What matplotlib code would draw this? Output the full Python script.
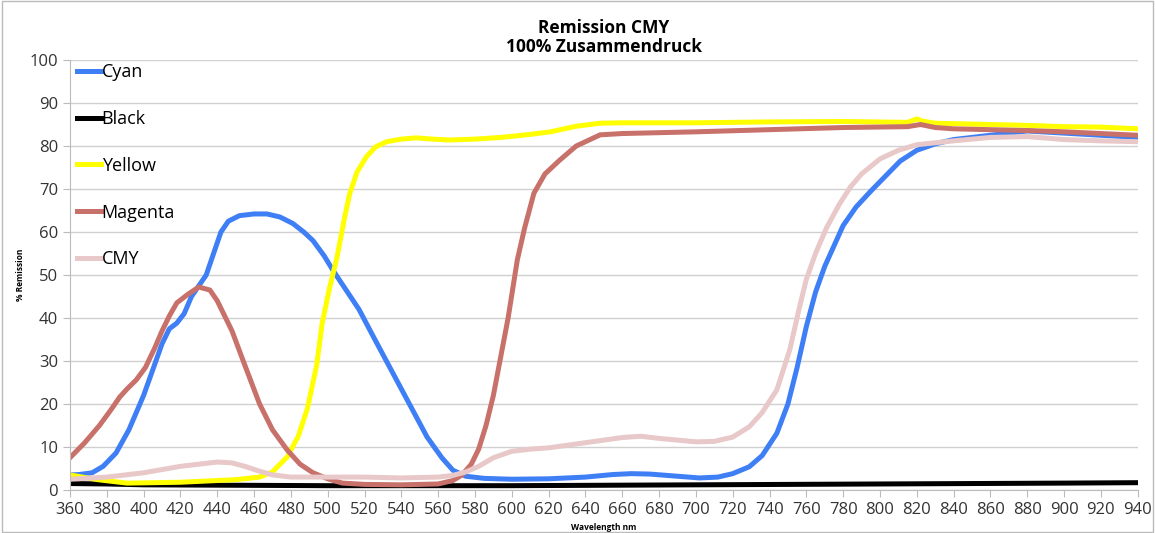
import numpy as np
import matplotlib.pyplot as plt
from matplotlib.patches import Rectangle

plt.rcParams['font.family'] = ['Open Sans', 'DejaVu Sans']

# wavelengths (nm) and remission (%) per ink
wl_cyan = [360, 365, 372, 378, 385, 392, 400, 405, 410, 414, 418, 422, 426, 430, 434, 438,
           442, 446, 452, 460, 467, 474, 481, 487, 492, 498, 503, 510, 517, 525, 535, 545,
           554, 562, 568, 575, 585, 600, 620, 640, 655, 665, 675, 690, 702, 712, 720, 729,
           736, 744, 750, 755, 760, 765, 770, 774, 780, 787, 795, 803, 811, 820, 830, 840,
           860, 880, 900, 920, 940]
cyan = [3.5, 3.6, 4.0, 5.5, 8.6, 14, 22, 28, 34, 37.5, 38.8, 41, 45, 47.5, 50, 55,
        60, 62.5, 63.8, 64.2, 64.2, 63.5, 62, 60, 58, 54.5, 51, 46.5, 42, 35.5, 27.5, 19.5,
        12.3, 7.5, 4.6, 3.2, 2.7, 2.5, 2.6, 3.0, 3.6, 3.8, 3.7, 3.2, 2.8, 3.0, 3.8, 5.4,
        8, 13.2, 20, 28.5, 38, 46, 52, 55.8, 61.5, 65.8, 69.5, 73, 76.5, 79, 80.5, 81.5,
        82.5, 83.5, 83, 82.5, 82]

wl_black = [360, 380, 400, 450, 500, 600, 700, 750, 800, 850, 900, 940]
black = [1.5, 1.4, 1.2, 1.1, 1.0, 1.0, 1.2, 1.3, 1.4, 1.5, 1.6, 1.7]

wl_yellow = [360, 375, 391, 420, 450, 463, 470, 478, 484, 489, 494, 497, 501, 505, 509, 512,
             516, 521, 526, 532, 540, 548, 557, 566, 580, 594, 608, 621, 635, 648, 660, 700,
             740, 780, 815, 820, 823, 830, 840, 860, 880, 900, 920, 940]
yellow = [3.5, 2.4, 1.6, 1.8, 2.4, 3.0, 4.2, 7.7, 12.5, 19, 29, 38.8, 47, 54, 63, 69,
          74, 77.5, 79.8, 81, 81.6, 81.9, 81.6, 81.4, 81.6, 82, 82.6, 83.3, 84.6, 85.3, 85.4, 85.4,
          85.6, 85.7, 85.5, 86.3, 85.8, 85.3, 85.2, 85, 84.8, 84.5, 84.4, 84]

wl_magenta = [360, 368, 376, 382, 387, 391, 396, 401, 406, 410, 414, 418, 424, 430, 436, 440,
              444, 448, 455, 463, 470, 478, 485, 492, 500, 508, 520, 540, 560, 568, 573, 578,
              582, 586, 590, 594, 598, 603, 607, 612, 618, 626, 635, 648, 660, 700, 740, 780,
              815, 822, 830, 840, 880, 900, 940]
magenta = [7.5, 11, 15, 18.5, 21.6, 23.5, 25.6, 28.5, 33, 37, 40.5, 43.5, 45.5, 47.2, 46.5, 44,
           40.5, 37, 29, 20, 14, 9.3, 6, 4, 2.6, 1.6, 1.3, 1.2, 1.4, 2.2, 3.5, 6,
           9.5, 15, 22, 31, 40, 53.5, 61, 69, 73.5, 76.7, 80, 82.6, 82.9, 83.3, 83.8, 84.3,
           84.5, 85, 84.3, 84, 83.6, 83.3, 82.5]

wl_cmy = [360, 380, 400, 420, 430, 440, 448, 455, 462, 470, 480, 500, 520, 540, 560, 568,
          575, 582, 590, 600, 610, 620, 640, 660, 670, 680, 700, 710, 720, 729, 736, 744,
          751, 756, 760, 765, 771, 778, 784, 790, 800, 810, 820, 840, 860, 880, 900, 920,
          940]
cmy = [2.5, 3, 4, 5.5, 6, 6.5, 6.3, 5.5, 4.5, 3.5, 3, 3, 3, 2.8, 3, 3.4,
       4.2, 5.5, 7.5, 9, 9.5, 9.8, 11, 12.2, 12.5, 12, 11.2, 11.3, 12.3, 14.7, 18, 23.3,
       32.6, 42, 49, 55, 61, 66.5, 70.5, 73.5, 77, 79, 80.3, 81.2, 82, 82.2, 81.5, 81.2,
       81]

fig = plt.figure(figsize=(11.55, 5.33), dpi=100)
ax = fig.add_axes([0.0606, 0.0807, 0.9244, 0.8067])

ax.plot(wl_cyan, cyan, color='#3f7ff5', lw=3.6, label='Cyan')
ax.plot(wl_black, black, color='black', lw=3.6, label='Black')
ax.plot(wl_yellow, yellow, color='#ffff00', lw=3.6, label='Yellow')
ax.plot(wl_magenta, magenta, color='#c8706a', lw=3.6, label='Magenta')
ax.plot(wl_cmy, cmy, color='#e8c8c8', lw=3.6, label='CMY')

ax.set_xlim(360, 940)
ax.set_ylim(0, 100)
ax.set_xticks(np.arange(360, 941, 20))
ax.set_yticks(np.arange(0, 101, 10))
ax.tick_params(labelsize=12, colors='#333333', length=5)
ax.tick_params(axis='both', color='#bbbbbb')
ax.grid(axis='y', color='#d0d0d0', lw=1)
ax.set_axisbelow(True)
for s in ['top', 'right']:
    ax.spines[s].set_visible(False)
for s in ['left', 'bottom']:
    ax.spines[s].set_color('#bbbbbb')

ax.set_title('Remission CMY\n100% Zusammendruck', fontsize=12.5, fontweight='bold',
             pad=6, linespacing=1.05)
ax.set_xlabel('Wavelength nm', fontsize=6, fontweight='bold', labelpad=4)
ax.set_ylabel('% Remission', fontsize=6, fontweight='bold', labelpad=3)

ax.legend(loc='upper left', frameon=False, fontsize=13, handlelength=1.3,
          handletextpad=0.05, labelspacing=1.6, borderaxespad=0.0,
          bbox_to_anchor=(0.0, 1.01))

fig.patches.append(Rectangle((0.002, 0.002), 0.996, 0.996, transform=fig.transFigure,
                             fill=False, edgecolor='#bbbbbb', lw=1))

fig.savefig('out.png')
